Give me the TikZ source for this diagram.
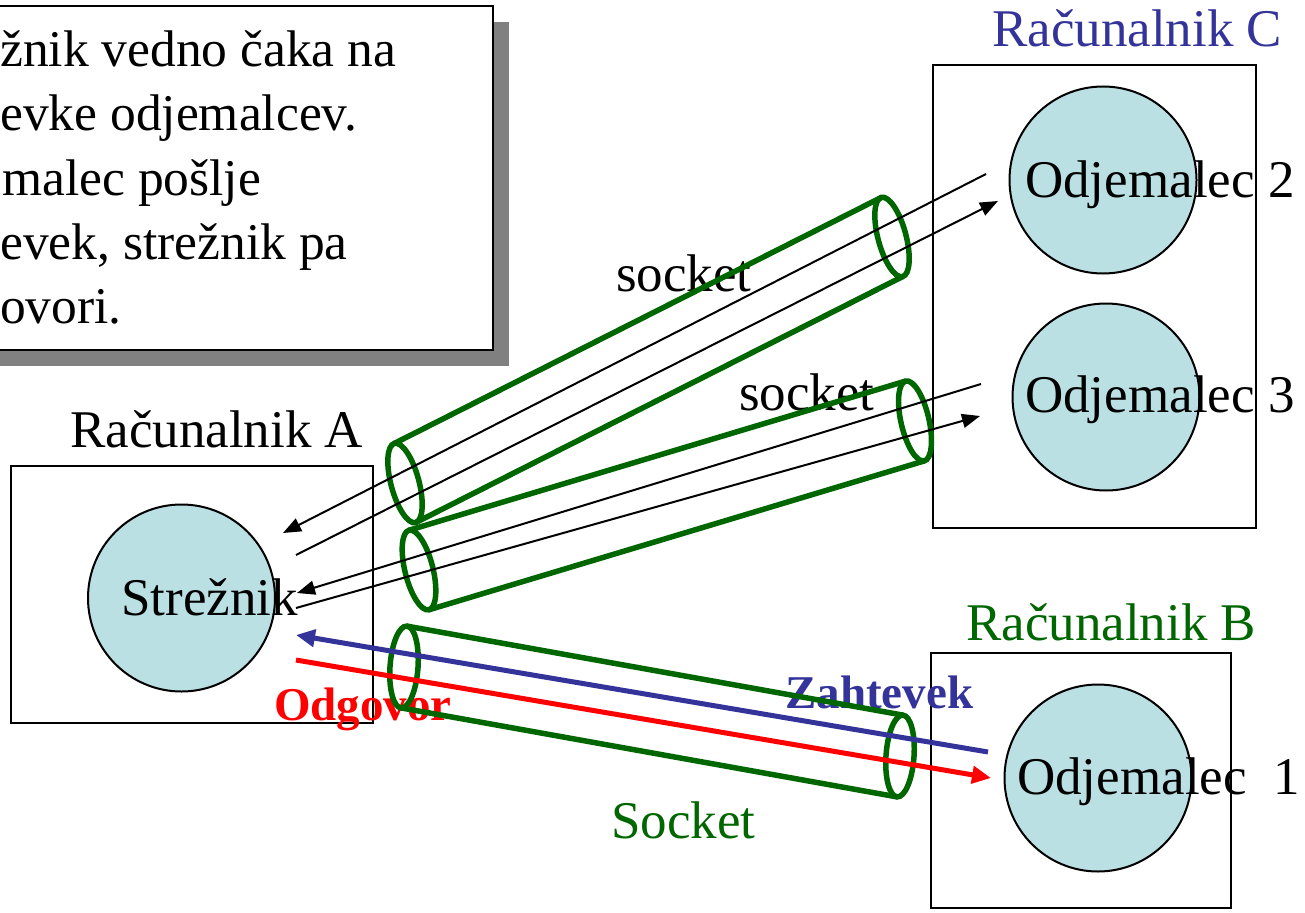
\documentclass[tikz,border=0pt]{standalone}
\usepackage{fontspec}
\setmainfont{Liberation Serif}
\usetikzlibrary{arrows.meta,shapes.geometric}
\definecolor{cfill}{HTML}{BBE0E3}
\definecolor{tgreen}{HTML}{006600}
\definecolor{tblue}{HTML}{333399}
\definecolor{tred}{HTML}{FF0000}
\definecolor{shgray}{HTML}{808080}
\begin{document}
\begin{tikzpicture}[x=1pt,y=-1pt,
  txt/.style={font=\fontsize{53}{64}\selectfont, inner sep=0pt, anchor=base west},
  boxtxt/.style={font=\fontsize{51.5}{64}\selectfont, inner sep=0pt, anchor=base west},
  lbl/.style={font=\bfseries\fontsize{47}{56}\selectfont, inner sep=0pt, anchor=base west},
  boxr/.style={draw=black, line width=2pt, inner sep=0pt, outer sep=0pt},
  proc/.style={circle, draw=black, line width=2pt, fill=cfill, minimum size=187pt, inner sep=0pt},
  tubeend/.style={ellipse, draw=tgreen, line width=5.5pt, minimum width=28pt, minimum height=82pt, inner sep=0pt, outer sep=0pt},
  tube/.style={draw=tgreen, line width=5.5pt},
  msg/.style={draw=black, line width=2pt, -{Triangle[length=18pt,width=14pt]}},
  big/.style={line width=5pt, -{Triangle[length=19pt,width=17pt]}},
]
\useasboundingbox (0,0) rectangle (1305,912);

% note box with shadow
\node[fill=shgray, minimum width=513pt, minimum height=344pt, inner sep=0pt] (shadow) at (252.5,194) {};
\node[boxr, fill=white, minimum width=513pt, minimum height=344pt] (note) at (236.5,178) {};
\node[boxtxt] (t1) at (0,67) {žnik vedno čaka na};
\node[boxtxt] (t2) at (0,131) {evke odjemalcev.};
\node[boxtxt] (t3) at (2,195) {malec pošlje};
\node[boxtxt] (t4) at (0,259) {evek, strežnik pa};
\node[boxtxt] (t5) at (0,323) {ovori.};

% computers
\node[boxr, minimum width=362pt, minimum height=257pt] (boxA) at (192,594.5) {};
\node[boxr, minimum width=323pt, minimum height=463pt] (boxC) at (1094.5,296.5) {};
\node[boxr, minimum width=300pt, minimum height=255pt] (boxB) at (1081,780.5) {};
\node[txt] (labA) at (70,447) {Računalnik A};
\node[txt, text=tblue] (labC) at (992,47) {Računalnik C};
\node[txt, text=tgreen] (labB) at (966,640) {Računalnik B};

% processes
\node[proc] (srv) at (181.5,598) {};
\node[proc] (cl2) at (1103,180) {};
\node[proc] (cl3) at (1106,397) {};
\node[proc] (cl1) at (1098,778) {};
\node[txt] (srvt) at (121,615) {Strežnik};
\node[txt] (cl2t) at (1025,197) {Odjemalec 2};
\node[txt] (cl3t) at (1025,412) {Odjemalec 3};
\node[txt] (cl1t) at (1017,794) {Odjemalec\ \ 1};

% socket labels
\node[txt] (s1) at (616,291) {socket};
\node[txt] (s2) at (739,410) {socket};
\node[txt, text=tgreen] (s3) at (611,838) {Socket};
\node[lbl, text=tblue] (zah) at (785,708) {Zahtevek};
\node[lbl, text=tred] (odg) at (274,720) {Odgovor};

% sockets (tubes)
\node[tubeend, rotate=15] (c1L) at (405,483) {};
\node[tubeend, rotate=15] (c1R) at (892,237) {};
\node[tubeend, rotate=14] (c2L) at (419,570) {};
\node[tubeend, rotate=13] (c2R) at (915,421) {};
\node[tubeend, rotate=-4] (c3L) at (404,667) {};
\node[tubeend, rotate=-4] (c3R) at (900,756) {};
\draw[tube] (c1L.north) -- (c1R.north);
\draw[tube] (c1L.south) -- (c1R.south);
\draw[tube] (c2L.north) -- (c2R.north);
\draw[tube] (c2L.south) -- (c2R.south);
\draw[tube] (c3L.north) -- (c3R.north);
\draw[tube] (c3L.south) -- (c3R.south);

% messages
\coordinate (a1s) at (986,174);
\coordinate (a1e) at (283,533);
\coordinate (a2s) at (296,555);
\coordinate (a2e) at (998,201);
\coordinate (a3s) at (981,384);
\coordinate (a3e) at (297,593);
\coordinate (a4s) at (296,608);
\coordinate (a4e) at (980,416);
\draw[msg] (a1s) -- (a1e);
\draw[msg] (a2s) -- (a2e);
\draw[msg] (a3s) -- (a3e);
\draw[msg] (a4s) -- (a4e);
\coordinate (zs) at (988,752);
\coordinate (ze) at (296,635);
\coordinate (os) at (296,660);
\coordinate (oe) at (991,778);
\draw[big, draw=tblue, fill=tblue] (zs) -- (ze);
\draw[big, draw=tred, fill=tred] (os) -- (oe);
\end{tikzpicture}
\end{document}
